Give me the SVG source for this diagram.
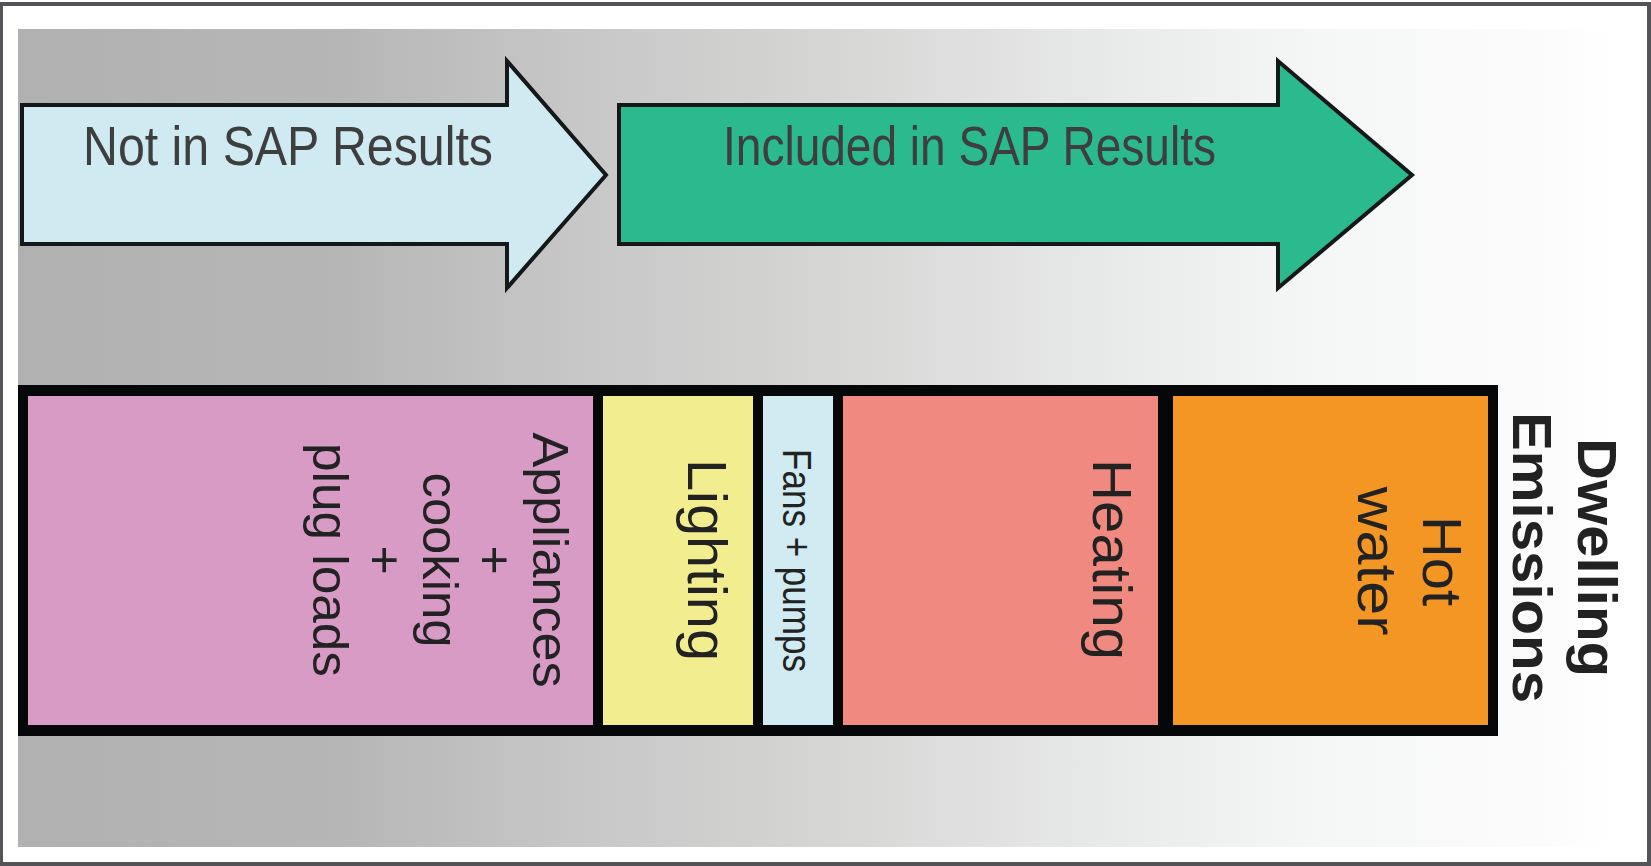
<svg xmlns="http://www.w3.org/2000/svg" width="1651" height="866" viewBox="0 0 1651 866">
<defs>
<linearGradient id="bg" x1="18" y1="0" x2="1620" y2="0" gradientUnits="userSpaceOnUse">
<stop offset="0" stop-color="#b1b1b1"/>
<stop offset="0.2" stop-color="#b5b6b5"/>
<stop offset="0.34" stop-color="#c6c6c6"/>
<stop offset="0.51" stop-color="#d6d6d5"/>
<stop offset="0.68" stop-color="#e8e9e9"/>
<stop offset="0.81" stop-color="#f5f6f6"/>
<stop offset="0.94" stop-color="#fbfbfb"/>
<stop offset="1" stop-color="#ffffff"/>
</linearGradient>
<style>
.arrow{stroke:#151818;stroke-width:4;stroke-linejoin:miter}
.head{font-family:"Liberation Sans",Arial,sans-serif;font-size:56px;fill:#3e3e3e;lengthAdjust:spacingAndGlyphs}
.lbl{font-family:"Liberation Sans",Arial,sans-serif;fill:#222;text-anchor:middle}
.cell{stroke:none}
</style>
</defs>
<rect x="0" y="0" width="1651" height="866" fill="#ffffff"/>
<rect x="18" y="29" width="1602" height="818" fill="url(#bg)"/>
<rect x="1" y="4" width="1648" height="860" fill="none" stroke="#545458" stroke-width="4"/>

<g id="connectors"></g>

<g id="not-in-sap">
<polygon class="arrow" fill="#cfebf1" points="22,105 507,105 507,61 606,175 507,288 507,244 22,244"/>
<text class="head" x="83" y="165" textLength="410" lengthAdjust="spacingAndGlyphs">Not in SAP Results</text>
</g>

<g id="included-in-sap">
<polygon class="arrow" fill="#2bb98e" points="619,105 1278,105 1278,61 1412,175 1278,288 1278,244 619,244"/>
<text class="head" x="723" y="165" textLength="493" lengthAdjust="spacingAndGlyphs">Included in SAP Results</text>
</g>

<g id="bar">
<rect x="18" y="385" width="1480" height="351" fill="#060709"/>
</g>

<g id="appliances">
<rect class="cell" x="28" y="396" width="565" height="329" fill="#d79bc5"/>
<g transform="translate(0,560) rotate(90)" class="lbl" font-size="50">
<text x="0" y="-533" textLength="255" lengthAdjust="spacingAndGlyphs">Appliances</text>
<text x="0" y="-478">+</text>
<text x="0" y="-423" textLength="175" lengthAdjust="spacingAndGlyphs">cooking</text>
<text x="0" y="-368">+</text>
<text x="0" y="-313" textLength="234" lengthAdjust="spacingAndGlyphs">plug loads</text>
</g>
</g>

<g id="lighting">
<rect class="cell" x="603" y="396" width="150" height="329" fill="#f2ee8f"/>
<text class="lbl" font-size="56" transform="translate(688,560) rotate(90)" x="0" y="0" textLength="202" lengthAdjust="spacingAndGlyphs">Lighting</text>
</g>

<g id="fans-pumps">
<rect class="cell" x="763" y="396" width="70" height="329" fill="#d0ebf1"/>
<text class="lbl" font-size="40" fill="#2e3033" transform="translate(783,560.5) rotate(90)" x="0" y="0" textLength="223" lengthAdjust="spacingAndGlyphs">Fans + pumps</text>
</g>

<g id="heating">
<rect class="cell" x="843" y="396" width="315" height="329" fill="#f08a80"/>
<text class="lbl" font-size="56" transform="translate(1093,559.5) rotate(90)" x="0" y="0" textLength="201" lengthAdjust="spacingAndGlyphs">Heating</text>
</g>

<g id="hot-water">
<rect class="cell" x="1173" y="396" width="315" height="329" fill="#f39623"/>
<g transform="translate(0,561) rotate(90)" class="lbl" font-size="56">
<text x="0" y="-1423" textLength="90" lengthAdjust="spacingAndGlyphs">Hot</text>
<text x="0" y="-1358" textLength="149" lengthAdjust="spacingAndGlyphs">water</text>
</g>
</g>

<g id="dwelling-emissions">
<g transform="translate(0,557.5) rotate(90)" class="lbl" font-size="56" font-weight="bold" fill="#1c1c1c">
<text x="0" y="-1578" textLength="239" lengthAdjust="spacingAndGlyphs">Dwelling</text>
<text x="0" y="-1513" textLength="291" lengthAdjust="spacingAndGlyphs">Emissions</text>
</g>
</g>
</svg>
